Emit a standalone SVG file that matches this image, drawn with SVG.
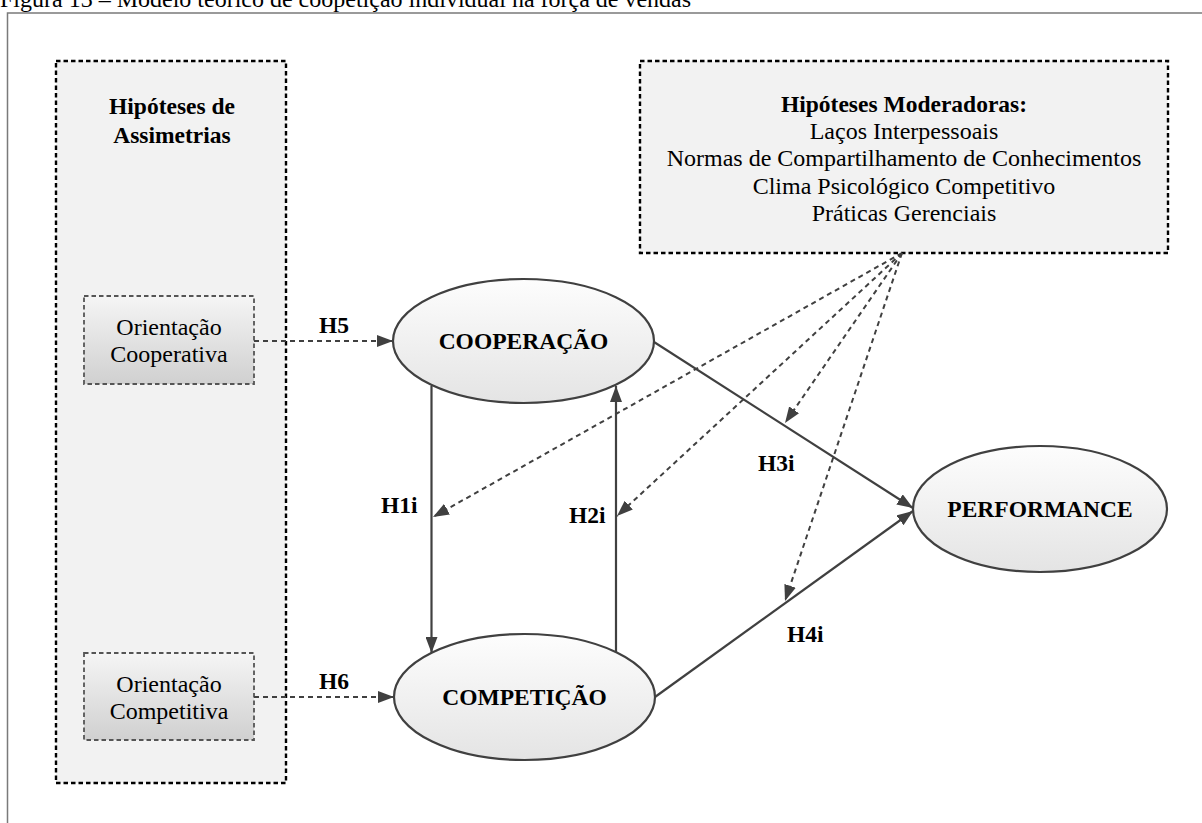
<svg xmlns="http://www.w3.org/2000/svg" width="1202" height="823" viewBox="0 0 1202 823">
  <defs>
    <linearGradient id="gBox" x1="0" y1="0" x2="0" y2="1">
      <stop offset="0" stop-color="#f5f5f5"/>
      <stop offset="1" stop-color="#d0d0d0"/>
    </linearGradient>
    <linearGradient id="gEll" x1="0" y1="0" x2="0" y2="1">
      <stop offset="0" stop-color="#fdfdfd"/>
      <stop offset="1" stop-color="#e4e4e4"/>
    </linearGradient>
    <marker id="ah" markerUnits="userSpaceOnUse" viewBox="0 0 16 12" markerWidth="16" markerHeight="12" refX="16" refY="6" orient="auto">
      <path d="M0,0 L16,6 L0,12 z" fill="#404040"/>
    </marker>
    <style>
      .frame { fill: none; stroke: #7a7a7a; stroke-width: 1.5; }
      .group { fill: #f2f2f2; stroke: #000; stroke-width: 2.4; stroke-dasharray: 4.5 3; }
      .inner { fill: url(#gBox); stroke: #555; stroke-width: 1.8; stroke-dasharray: 4.5 3; }
      .ell { fill: url(#gEll); stroke: #404040; stroke-width: 2.2; }
      .solid { fill: none; stroke: #404040; stroke-width: 2.2; marker-end: url(#ah); }
      .dash { fill: none; stroke: #404040; stroke-width: 2; stroke-dasharray: 5 4; marker-end: url(#ah); }
      .t { font-family: "Liberation Serif", "Times New Roman", serif; font-size: 24px; fill: #000; }
      .b { font-weight: bold; font-size: 23.5px; }
      .c { text-anchor: middle; }
    </style>
  </defs>

  <!-- caption, partly clipped by the top of the page -->
  <text class="t" x="0" y="7" font-size="25.5">Figura 13 – Modelo teórico de coopetição individual na força de vendas</text>

  <!-- page frame -->
  <path class="frame" d="M7.5,823 V13 H1202"/>

  <!-- asymmetry hypotheses panel -->
  <g id="assimetrias">
    <rect class="group" x="56" y="61" width="230" height="722"/>
    <text class="t b c" x="172" y="114" font-size="24.5">Hipóteses de</text>
    <text class="t b c" x="172" y="143" font-size="24.5">Assimetrias</text>
  </g>

  <!-- moderating hypotheses panel -->
  <g id="moderadoras">
    <rect class="group" x="640" y="61" width="528" height="192"/>
    <text class="t b c" x="904" y="112" font-size="20.5">Hipóteses Moderadoras:</text>
    <text class="t c" x="904" y="139">Laços Interpessoais</text>
    <text class="t c" x="904" y="166">Normas de Compartilhamento de Conhecimentos</text>
    <text class="t c" x="904" y="194">Clima Psicológico Competitivo</text>
    <text class="t c" x="904" y="221">Práticas Gerenciais</text>
  </g>

  <g id="orientacao-cooperativa">
    <rect class="inner" x="84" y="296" width="170" height="88"/>
    <text class="t c" x="169" y="335" font-size="24.5">Orientação</text>
    <text class="t c" x="169" y="362" font-size="24.5">Cooperativa</text>
  </g>

  <g id="orientacao-competitiva">
    <rect class="inner" x="84" y="653" width="170" height="87"/>
    <text class="t c" x="169" y="692" font-size="24.5">Orientação</text>
    <text class="t c" x="169" y="719" font-size="24.5">Competitiva</text>
  </g>

  <g id="cooperacao">
    <ellipse class="ell" cx="523.5" cy="341" rx="130.5" ry="62"/>
    <text class="t b c" x="523.5" y="349">COOPERAÇÃO</text>
  </g>

  <g id="competicao">
    <ellipse class="ell" cx="524.5" cy="697" rx="130.5" ry="63"/>
    <text class="t b c" x="524.5" y="705">COMPETIÇÃO</text>
  </g>

  <g id="performance">
    <ellipse class="ell" cx="1040" cy="509" rx="127" ry="63"/>
    <text class="t b c" x="1040" y="517" font-size="24.5">PERFORMANCE</text>
  </g>

  <!-- connectors -->
  <g id="connectors">
    <path class="dash" d="M254,341 L393,341"/>
    <path class="dash" d="M254,697 L394,697"/>
    <path class="solid" d="M431.5,386 L431.5,653"/>
    <path class="solid" d="M616,652 L616,386"/>
    <path class="solid" d="M654,342 L913,508"/>
    <path class="solid" d="M655,697 L913,511"/>
    <path class="dash" d="M902,253 L433,517"/>
    <path class="dash" d="M902,253 L617,516"/>
    <path class="dash" d="M902,253 L785,423"/>
    <path class="dash" d="M902,253 L785,601"/>
  </g>

  <!-- hypothesis labels -->
  <g id="labels">
    <text class="t b" x="319" y="333">H5</text>
    <text class="t b" x="319" y="689">H6</text>
    <text class="t b" x="381" y="513">H1i</text>
    <text class="t b" x="569" y="523">H2i</text>
    <text class="t b" x="758" y="471">H3i</text>
    <text class="t b" x="787" y="642">H4i</text>
  </g>
</svg>
